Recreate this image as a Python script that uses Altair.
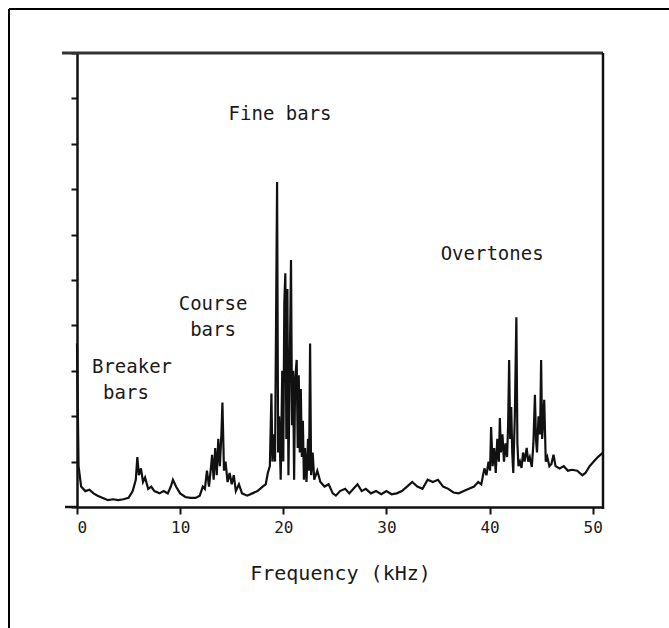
import altair as alt
import pandas as pd

# Acoustic spectrum: frequency (kHz) and relative amplitude
freq = [
    0.0, 0.15, 0.4, 0.8, 1.2, 1.6, 2.0, 2.5, 3.0, 3.5, 4.0, 4.5, 5.0, 5.4, 5.7, 5.85,
    6.0, 6.2, 6.4, 6.6, 6.9, 7.2, 7.5, 8.0, 8.4, 8.8, 9.1, 9.3, 9.6, 10.0, 10.5, 11.0,
    11.5, 11.9, 12.2, 12.4, 12.6, 12.8, 13.0, 13.1, 13.25, 13.4, 13.55, 13.7, 13.85, 14.0,
    14.1, 14.25, 14.4, 14.6, 14.8, 15.0, 15.2, 15.4, 15.7, 16.0, 16.5, 17.0, 17.5, 18.0,
    18.3, 18.5, 18.7, 18.85, 18.95, 19.1, 19.2, 19.4, 19.5, 19.6, 19.75, 19.9, 20.0, 20.1,
    20.2, 20.3, 20.4, 20.5, 20.65, 20.75, 20.85, 20.95, 21.05, 21.15, 21.3, 21.4, 21.5,
    21.6, 21.7, 21.8, 21.9, 22.0, 22.1, 22.25, 22.4, 22.5, 22.6, 22.7, 22.85, 23.0, 23.3,
    23.6, 24.0, 24.4, 24.8, 25.1, 25.5, 26.0, 26.4, 26.8, 27.2, 27.6, 28.0, 28.5, 29.0,
    29.5, 30.0, 30.5, 31.0, 31.5, 32.0, 32.5, 33.0, 33.5, 34.0, 34.5, 35.0, 35.5, 36.0,
    36.5, 37.0, 37.5, 38.0, 38.5, 38.9, 39.2, 39.5, 39.7, 39.9, 40.05, 40.15, 40.3, 40.45,
    40.6, 40.75, 40.9, 41.0, 41.1, 41.25, 41.4, 41.55, 41.7, 41.8, 41.9, 42.0, 42.1, 42.2,
    42.3, 42.45, 42.6, 42.7, 42.8, 42.95, 43.1, 43.25, 43.4, 43.6, 43.75, 43.9, 44.1,
    44.25, 44.4, 44.5, 44.6, 44.75, 44.9, 45.0, 45.1, 45.2, 45.3, 45.45, 45.6, 45.8, 46.0,
    46.2, 46.4, 46.8, 47.2, 47.6, 48.0, 48.5, 49.0, 49.3, 49.7, 50.1, 50.5, 51.0,
]
amplitude = [
    3.6, 0.9, 0.45, 0.35, 0.38, 0.3, 0.25, 0.2, 0.15, 0.17, 0.15, 0.17, 0.2, 0.35, 0.6, 1.1,
    0.7, 0.85, 0.55, 0.65, 0.4, 0.45, 0.35, 0.3, 0.35, 0.3, 0.45, 0.6, 0.45, 0.3, 0.22, 0.2,
    0.2, 0.25, 0.45, 0.4, 0.8, 0.45, 0.9, 1.15, 0.6, 1.3, 0.7, 1.5, 0.9, 1.6,
    2.3, 0.8, 1.0, 0.55, 0.75, 0.5, 0.7, 0.35, 0.5, 0.3, 0.25, 0.3, 0.35, 0.45,
    0.5, 0.75, 0.9, 2.5, 1.0, 1.6, 1.0, 7.16, 1.2, 2.0, 0.6, 3.0, 1.0, 4.5,
    5.15, 1.5, 4.8, 0.7, 3.5, 5.44, 1.8, 3.0, 0.6, 2.8, 3.24, 1.3, 2.9,
    1.2, 2.6, 1.1, 1.9, 0.6, 1.3, 0.55, 1.5, 0.8, 3.6, 0.7, 1.2, 0.6, 0.8,
    0.55, 0.45, 0.5, 0.3, 0.25, 0.35, 0.4, 0.3, 0.4, 0.5, 0.35, 0.4, 0.3, 0.35,
    0.28, 0.35, 0.28, 0.3, 0.35, 0.45, 0.55, 0.45, 0.4, 0.6, 0.55, 0.6, 0.45, 0.4,
    0.32, 0.3, 0.35, 0.4, 0.45, 0.55, 0.5, 0.85, 0.7, 1.0, 0.8, 1.76, 0.9, 1.3,
    0.75, 1.5, 1.0, 1.96, 1.2, 1.6, 1.0, 1.4, 1.1, 1.8, 3.24, 1.5, 2.2, 1.2,
    0.75, 2.0, 4.18, 1.4, 0.9, 1.0, 0.86, 1.2, 1.0, 1.3, 1.0, 1.1, 0.88,
    1.4, 2.47, 1.5, 1.2, 2.0, 1.6, 3.24, 1.5, 1.9, 2.36, 1.0, 1.1, 0.9, 0.95,
    1.15, 0.9, 0.85, 0.9, 0.8, 0.82, 0.8, 0.7, 0.75, 0.9, 1.0, 1.1, 1.2,
]

# Region labels placed in data coordinates
label_text = ["Fine bars", "Course", "bars", "Breaker", "bars", "Overtones"]
label_freq = [19.69, 13.19, 13.19, 5.33, 4.75, 40.25]
label_amp = [8.66, 4.47, 3.90, 3.08, 2.51, 5.57]

x_ticks = [0, 10, 20, 30, 40, 50]
y_ticks = list(range(0, 11))

MONO = "DejaVu Sans Mono"
INK = "#111111"
TEXT = "#1a1a1a"
W, H = 526, 454

spectrum = pd.DataFrame({"f": freq, "v": amplitude})
labels = pd.DataFrame({"label": label_text, "f": label_freq, "v": label_amp})
one = pd.DataFrame({"i": [0]})

x_scale = alt.Scale(domain=[0, 51], nice=False, zero=False)
y_scale = alt.Scale(domain=[0, 10], nice=False)

line = alt.Chart(spectrum).mark_line(color=INK, strokeWidth=2.2, strokeJoin="miter").encode(
    x=alt.X(
        "f:Q",
        scale=x_scale,
        axis=alt.Axis(
            values=x_ticks,
            grid=False,
            labelFont=MONO,
            labelFontSize=16,
            labelColor=TEXT,
            labelPadding=5,
            tickColor=INK,
            tickSize=7,
            tickWidth=2,
            domainColor=INK,
            domainWidth=2.5,
            title="Frequency (kHz)",
            titleFont=MONO,
            titleFontSize=20,
            titleFontWeight="normal",
            titleColor=TEXT,
            titlePadding=28,
        ),
    ),
    y=alt.Y(
        "v:Q",
        scale=y_scale,
        axis=alt.Axis(
            values=y_ticks,
            grid=False,
            labels=False,
            tickColor=INK,
            tickSize=6,
            tickWidth=2,
            domainColor=INK,
            domainWidth=2.5,
            title="",
        ),
    ),
)

text = alt.Chart(labels).mark_text(
    font=MONO, fontSize=19, color=TEXT, align="center", baseline="middle"
).encode(
    x=alt.X("f:Q", scale=x_scale),
    y=alt.Y("v:Q", scale=y_scale),
    text="label:N",
)

# Plot frame: top edge (running past the y axis), right edge, axis stub to the left
top_edge = alt.Chart(one).mark_rule(color="#333333", strokeWidth=3).encode(
    x=alt.value(-15), x2=alt.value(W), y=alt.value(0)
)
right_edge = alt.Chart(one).mark_rule(color=INK, strokeWidth=2.5).encode(
    x=alt.value(W), y=alt.value(0), y2=alt.value(H + 2)
)
bottom_stub = alt.Chart(one).mark_rule(color=INK, strokeWidth=2.5).encode(
    x=alt.value(-12), x2=alt.value(0), y=alt.value(H)
)

# Outer page border (left and top)
outer_top = alt.Chart(one).mark_rule(color="#000000", strokeWidth=2).encode(
    x=alt.value(-68), x2=alt.value(W + 80), y=alt.value(-44)
)
outer_left = alt.Chart(one).mark_rule(color="#000000", strokeWidth=2).encode(
    x=alt.value(-68), y=alt.value(-44), y2=alt.value(H + 140)
)

chart = (
    alt.layer(outer_top, outer_left, top_edge, right_edge, bottom_stub, line, text)
    .properties(
        width=W,
        height=H,
        autosize=alt.AutoSizeParams(type="none"),
        padding={"left": 77, "top": 53, "right": 66, "bottom": 121},
        background="white",
    )
    .configure_view(stroke=None)
)

chart.save("out.html", embed_options={"renderer": "svg", "actions": False})
